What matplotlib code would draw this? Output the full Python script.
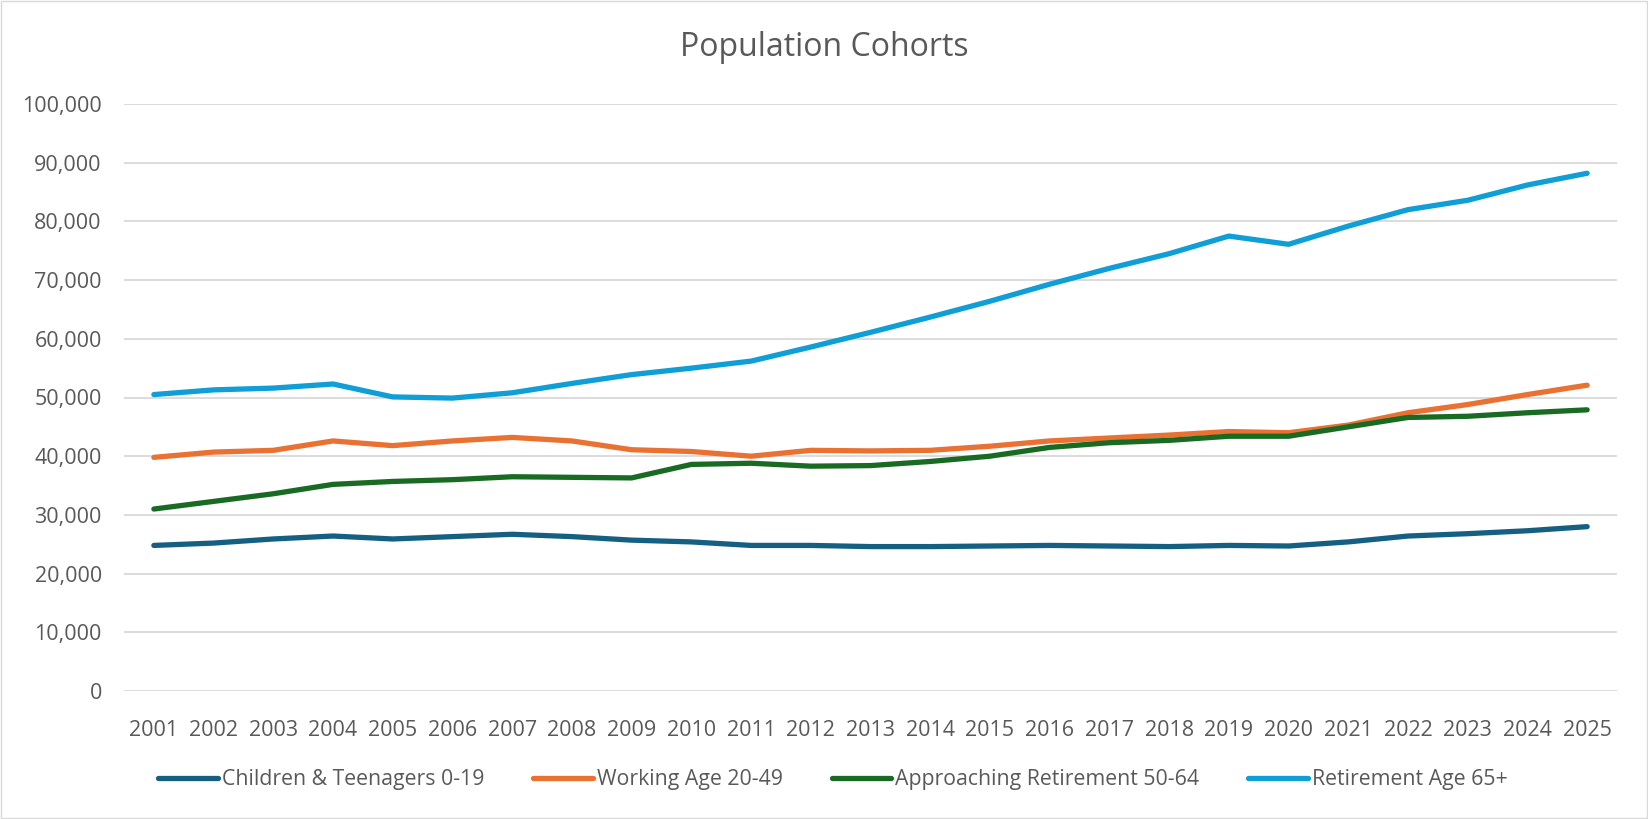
import matplotlib
matplotlib.use("Agg")
import matplotlib.pyplot as plt
from matplotlib.ticker import FuncFormatter, MultipleLocator

plt.rcParams['font.family'] = ['Open Sans', 'DejaVu Sans']

years = list(range(2001, 2026))
children = [24800, 25200, 25900, 26400, 25900, 26300, 26700, 26300, 25700, 25400,
            24800, 24800, 24600, 24600, 24700, 24800, 24700, 24600, 24800, 24700,
            25400, 26400, 26800, 27300, 28000]
working = [39800, 40700, 41000, 42600, 41800, 42600, 43200, 42600, 41100, 40800,
           40000, 41000, 40900, 41000, 41700, 42600, 43100, 43600, 44200, 44000,
           45300, 47400, 48800, 50500, 52100]
approaching = [31000, 32300, 33600, 35200, 35700, 36000, 36500, 36400, 36300, 38600,
               38800, 38300, 38400, 39100, 40000, 41500, 42300, 42700, 43400, 43400,
               45000, 46600, 46800, 47400, 47900]
retirement = [50500, 51300, 51600, 52300, 50100, 49900, 50800, 52400, 53900, 55000,
              56200, 58600, 61100, 63700, 66400, 69300, 72000, 74500, 77500, 76100,
              79200, 82000, 83600, 86200, 88200]

series = [
    ("Children & Teenagers 0-19", children, "#156082"),
    ("Working Age 20-49", working, "#E97132"),
    ("Approaching Retirement 50-64", approaching, "#196B24"),
    ("Retirement Age 65+", retirement, "#0F9ED5"),
]

W, H = 1648, 819
fig = plt.figure(figsize=(W/100, H/100), dpi=100)
L, R, T, B = 124, 1617, 104, 691
ax = fig.add_axes([L/W, 1 - B/H, (R-L)/W, (B-T)/H])

for name, vals, col in series:
    ax.plot(years, vals, color=col, lw=3.8, label=name, solid_capstyle='round', solid_joinstyle='round')

ax.set_xlim(2000.5, 2025.5)
ax.set_ylim(0, 100000)
ax.yaxis.set_major_locator(MultipleLocator(10000))
ax.yaxis.set_major_formatter(FuncFormatter(lambda v, p: f"{int(v):,}"))
ax.set_xticks(years)
ax.set_xticklabels([str(y) for y in years])
ax.grid(axis='y', color='#D9D9D9', lw=1.3)
ax.set_axisbelow(True)
for s in ax.spines.values():
    s.set_visible(False)
ax.tick_params(axis='both', length=0, labelsize=15.5, colors='#595959')
ax.tick_params(axis='x', pad=21)
ax.tick_params(axis='y', pad=16)

fig.text(0.5, 1 - 47/H, "Population Cohorts", ha='center', va='center', fontsize=23, color='#595959')

leg = fig.legend(loc='center', bbox_to_anchor=(833/W, 1 - 780/H), ncol=4, frameon=False,
                 fontsize=15.3, handlelength=2.8, columnspacing=2.3, handletextpad=0.2)
for t in leg.get_texts():
    t.set_color('#595959')

fig.patches.append(plt.Rectangle((1/W, 1/H), 1 - 2/W, 1 - 2/H, transform=fig.transFigure,
                                 fill=False, edgecolor='#D9D9D9', lw=1))
fig.savefig("out.png", dpi=100)
